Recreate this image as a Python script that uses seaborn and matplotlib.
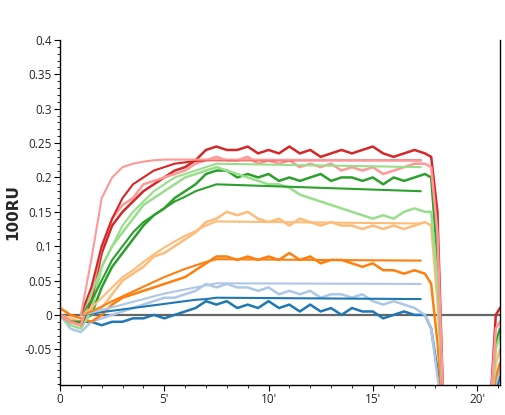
import numpy as np
import pandas as pd
import matplotlib
matplotlib.use("Agg")
import matplotlib.pyplot as plt
import seaborn as sns
from matplotlib.ticker import MultipleLocator, FixedLocator

sns.set_style("white")
plt.rcParams['font.family'] = ['Open Sans', 'DejaVu Sans']

t_main = [i * 0.5 for i in range(36)]
t_tail = [17.8, 18.1, 18.4, 20.6, 20.9, 21.1]
times = t_main + t_tail

series_names = ["blue", "lightblue", "orange", "lightorange", "green", "lightgreen", "red", "lightred"]
colors = ["#1f77b4", "#aec7e8", "#ff7f0e", "#ffbb78", "#2ca02c", "#98df8a", "#d62728", "#ff9896"]

blue = [0,-0.01,-0.01,-0.01,-0.015,-0.01,-0.01,-0.005,-0.005,0.0,-0.005,0.0,0.005,0.01,0.02,0.015,0.02,0.01,0.015,0.01,0.02,0.01,0.015,0.005,0.015,0.005,0.01,0.0,0.01,0.005,0.005,-0.005,0.0,0.005,0.0,0.0,
        -0.02,-0.08,-0.15,-0.15,-0.11,-0.09]
lightblue = [0,-0.02,-0.025,-0.01,-0.005,0.0,0.005,0.01,0.015,0.02,0.025,0.025,0.03,0.035,0.045,0.04,0.045,0.04,0.04,0.035,0.04,0.03,0.035,0.03,0.035,0.025,0.03,0.03,0.025,0.03,0.02,0.015,0.02,0.015,0.01,0.0,
        -0.02,-0.09,-0.15,-0.15,-0.1,-0.08]
orange = [0.01,0.0,-0.005,-0.01,0.0,0.015,0.025,0.03,0.035,0.04,0.045,0.05,0.055,0.065,0.075,0.085,0.085,0.08,0.085,0.08,0.085,0.08,0.09,0.08,0.085,0.075,0.08,0.08,0.075,0.07,0.075,0.065,0.065,0.06,0.065,0.06,
        0.045,-0.04,-0.15,-0.15,-0.09,-0.07]
lightorange = [0,-0.005,-0.01,0.0,0.01,0.03,0.05,0.06,0.07,0.085,0.09,0.1,0.11,0.12,0.135,0.14,0.15,0.145,0.15,0.14,0.135,0.14,0.13,0.14,0.135,0.13,0.135,0.13,0.13,0.125,0.13,0.125,0.13,0.125,0.13,0.135,
        0.13,0.02,-0.15,-0.15,-0.07,-0.05]
green = [0,-0.01,-0.01,0.0,0.04,0.07,0.09,0.11,0.13,0.145,0.155,0.17,0.18,0.19,0.205,0.21,0.21,0.2,0.205,0.2,0.205,0.195,0.2,0.195,0.2,0.205,0.195,0.2,0.2,0.195,0.2,0.19,0.2,0.195,0.2,0.205,
        0.2,0.08,-0.15,-0.15,-0.04,-0.02]
lightgreen = [0,-0.015,-0.02,0.005,0.07,0.1,0.12,0.14,0.16,0.17,0.18,0.19,0.2,0.205,0.21,0.215,0.21,0.205,0.2,0.195,0.19,0.19,0.185,0.175,0.17,0.165,0.16,0.155,0.15,0.145,0.14,0.145,0.14,0.15,0.155,0.15,
        0.15,0.05,-0.15,-0.15,-0.05,-0.03]
red = [0,-0.01,-0.015,0.02,0.09,0.13,0.15,0.165,0.18,0.19,0.2,0.21,0.215,0.225,0.24,0.245,0.24,0.24,0.245,0.235,0.24,0.235,0.245,0.235,0.24,0.23,0.235,0.24,0.235,0.24,0.245,0.235,0.23,0.235,0.24,0.235,
        0.23,0.15,-0.15,-0.15,0.0,0.01]
lightred = [0,-0.01,-0.015,0.03,0.1,0.14,0.16,0.17,0.19,0.195,0.2,0.205,0.21,0.22,0.225,0.23,0.225,0.225,0.23,0.22,0.225,0.22,0.225,0.215,0.22,0.215,0.22,0.21,0.215,0.21,0.215,0.205,0.21,0.215,0.22,0.22,
        0.215,0.12,-0.15,-0.15,-0.02,-0.01]

t_fit = [1.0 + 0.5 * i for i in range(14)] + [17.3]
fit_blue = [0,0.002,0.004,0.006,0.008,0.01,0.012,0.014,0.016,0.018,0.02,0.022,0.023,0.025,0.023]
fit_lightblue = [0,0.003,0.007,0.011,0.015,0.019,0.023,0.027,0.031,0.034,0.037,0.04,0.043,0.046,0.045]
fit_orange = [0,0.005,0.012,0.02,0.027,0.034,0.041,0.048,0.055,0.061,0.067,0.072,0.077,0.081,0.079]
fit_lightorange = [0,0.01,0.025,0.04,0.055,0.065,0.077,0.088,0.098,0.107,0.115,0.122,0.13,0.136,0.133]
fit_green = [0,0.02,0.05,0.08,0.1,0.12,0.135,0.145,0.155,0.165,0.172,0.18,0.185,0.19,0.18]
fit_lightgreen = [0,0.03,0.07,0.1,0.13,0.15,0.165,0.18,0.19,0.2,0.205,0.21,0.215,0.22,0.215]
fit_red = [0,0.04,0.1,0.14,0.17,0.19,0.2,0.21,0.215,0.22,0.222,0.224,0.225,0.225,0.225]
fit_lightred = [0,0.08,0.17,0.2,0.215,0.22,0.223,0.225,0.226,0.226,0.226,0.226,0.226,0.226,0.225]

data = [blue, lightblue, orange, lightorange, green, lightgreen, red, lightred]
fits = [fit_blue, fit_lightblue, fit_orange, fit_lightorange, fit_green, fit_lightgreen, fit_red, fit_lightred]

fig = plt.figure(figsize=(5.05, 4.15), dpi=100)
ax = fig.add_axes([60/505, 1-385/415, 440/505, 345/415])

ax.axhline(0, color="#666666", lw=1.6, zorder=1)
for name, c, d, f in zip(series_names, colors, data, fits):
    sns.lineplot(x=times, y=d, color=c, lw=1.8, ax=ax, zorder=2)
    sns.lineplot(x=t_fit, y=f, color=c, lw=1.5, ax=ax, zorder=3)

ax.set_xlim(0, 21.1)
ax.set_ylim(-0.102, 0.4)
ax.xaxis.set_major_locator(FixedLocator([0, 5, 10, 15, 20]))
ax.set_xticklabels(["0", "5'", "10'", "15'", "20'"])
ax.xaxis.set_minor_locator(MultipleLocator(1))
ax.yaxis.set_major_locator(FixedLocator([-0.05, 0, 0.05, 0.1, 0.15, 0.2, 0.25, 0.3, 0.35, 0.4]))
ax.set_yticklabels(["-0.05", "0", "0.05", "0.1", "0.15", "0.2", "0.25", "0.3", "0.35", "0.4"])
ax.yaxis.set_minor_locator(MultipleLocator(0.01))
ax.tick_params(which="major", direction="out", length=4, labelsize=8.5, pad=2, left=True, bottom=True, color="black")
ax.tick_params(which="minor", direction="out", length=2, left=True, bottom=True, color="black")
for s in ["left", "bottom", "right"]:
    ax.spines[s].set_color("black")
    ax.spines[s].set_linewidth(1)
ax.spines["top"].set_visible(False)
ax.set_ylabel("100RU", fontsize=11, fontweight="bold", family=["DejaVu Sans"])
ax.yaxis.set_label_coords(-0.09, 0.5)
ax.set_xlabel("")
fig.savefig("out.png", dpi=100)
